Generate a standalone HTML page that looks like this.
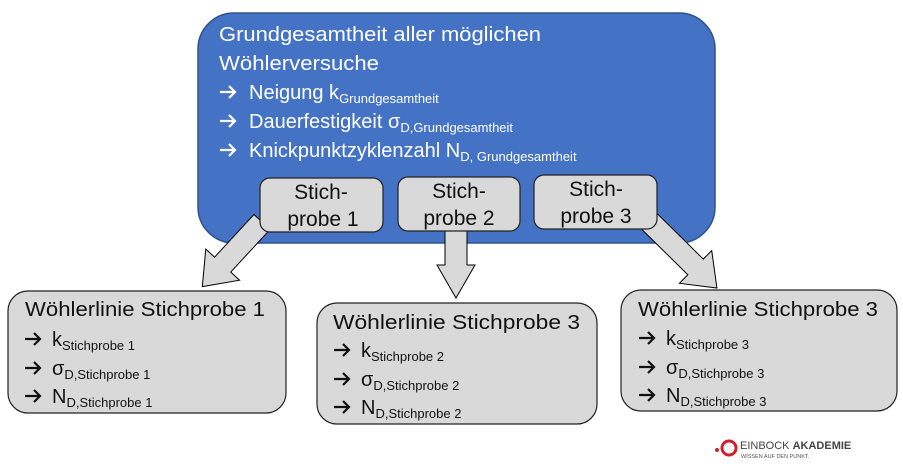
<!DOCTYPE html>
<html><head><meta charset="utf-8"><style>
html,body{margin:0;padding:0;background:#fff;}
svg{display:block;font-family:"Liberation Sans",sans-serif;}
</style></head><body>
<svg width="903" height="471" viewBox="0 0 903 471" xmlns="http://www.w3.org/2000/svg">
<defs>
<path id="ar" d="M0,0 H15 M9,-6 L15,0 L9,6" fill="none" stroke-width="2.2" stroke-linejoin="miter"/>
</defs>
<rect x="198" y="13" width="517" height="230" rx="36" fill="#4472C4" stroke="#2F528F" stroke-width="1.5"/>
<g fill="#fff" font-size="20">
<text x="219" y="41" textLength="322" lengthAdjust="spacingAndGlyphs">Grundgesamtheit aller möglichen</text>
<text x="219" y="70" textLength="160" lengthAdjust="spacingAndGlyphs">Wöhlerversuche</text>
<text x="249" y="99">Neigung k<tspan font-size="13" dy="4">Grundgesamtheit</tspan></text>
<text x="249" y="128">Dauerfestigkeit σ<tspan font-size="13" dy="4">D,Grundgesamtheit</tspan></text>
<text x="249" y="157">Knickpunktzyklenzahl N<tspan font-size="13" dy="4">D, Grundgesamtheit</tspan></text>
</g>
<g stroke="#fff">
<use href="#ar" x="220" y="92"/><use href="#ar" x="220" y="121"/><use href="#ar" x="220" y="150"/>
</g>
<g fill="#D9D9D9" stroke="#000" stroke-width="1">
<polygon transform="translate(262,222) rotate(132.7)" points="0,-11 58,-11 58,-23 88,0 58,23 58,11 0,11"/>
<polygon transform="translate(650,222) rotate(44.6)" points="0,-11 64,-11 64,-23 94,0 64,23 64,11 0,11"/>
<polygon points="445,231 467,231 467,265 475,265 456,298 437,265 445,265"/>
</g>
<g fill="#D9D9D9" stroke="#222" stroke-width="1.2">
<rect x="260" y="178" width="123" height="54" rx="10"/>
<rect x="398" y="177" width="122" height="54" rx="10"/>
<rect x="534" y="175" width="123" height="54" rx="10"/>
</g>
<g fill="#111" font-size="21" text-anchor="middle">
<text x="321" y="199">Stich-</text><text x="323" y="226">probe 1</text>
<text x="459" y="198">Stich-</text><text x="459" y="225">probe 2</text>
<text x="596" y="196">Stich-</text><text x="596" y="223">probe 3</text>
</g>
<g fill="#D9D9D9" stroke="#222" stroke-width="1.2">
<rect x="8" y="291" width="278" height="122" rx="20"/>
<rect x="317" y="303" width="280" height="121" rx="20"/>
<rect x="621" y="290" width="276" height="121" rx="20"/>
</g>
<g stroke="#111">
<use href="#ar" x="25" y="339"/><use href="#ar" x="25" y="368"/><use href="#ar" x="25" y="396"/>
<use href="#ar" x="334" y="350"/><use href="#ar" x="334" y="379"/><use href="#ar" x="334" y="407"/>
<use href="#ar" x="639" y="338"/><use href="#ar" x="639" y="367"/><use href="#ar" x="639" y="395"/>
</g>
<g fill="#111" font-size="20">
<text x="25" y="316" textLength="240" lengthAdjust="spacingAndGlyphs">Wöhlerlinie Stichprobe 1</text>
<text x="52" y="346">k<tspan font-size="13" dy="4">Stichprobe 1</tspan></text>
<text x="52" y="375">σ<tspan font-size="13" dy="4">D,Stichprobe 1</tspan></text>
<text x="52" y="403">N<tspan font-size="13" dy="4">D,Stichprobe 1</tspan></text>

<text x="333" y="329" textLength="247" lengthAdjust="spacingAndGlyphs">Wöhlerlinie Stichprobe 3</text>
<text x="361" y="357">k<tspan font-size="13" dy="4">Stichprobe 2</tspan></text>
<text x="361" y="386">σ<tspan font-size="13" dy="4">D,Stichprobe 2</tspan></text>
<text x="361" y="414">N<tspan font-size="13" dy="4">D,Stichprobe 2</tspan></text>

<text x="638" y="316" textLength="240" lengthAdjust="spacingAndGlyphs">Wöhlerlinie Stichprobe 3</text>
<text x="666" y="345">k<tspan font-size="13" dy="4">Stichprobe 3</tspan></text>
<text x="666" y="374">σ<tspan font-size="13" dy="4">D,Stichprobe 3</tspan></text>
<text x="666" y="402">N<tspan font-size="13" dy="4">D,Stichprobe 3</tspan></text>
</g>
<circle cx="717" cy="450" r="2" fill="#d0202a"/>
<circle cx="729" cy="448" r="7" fill="none" stroke="#d0202a" stroke-width="3"/>
<text x="740" y="449" font-size="11" fill="#444">EINBOCK <tspan font-weight="bold">AKADEMIE</tspan></text>
<text x="741" y="458" font-size="5.5" fill="#555">WISSEN AUF DEN PUNKT.</text>
</svg>
</body></html>
